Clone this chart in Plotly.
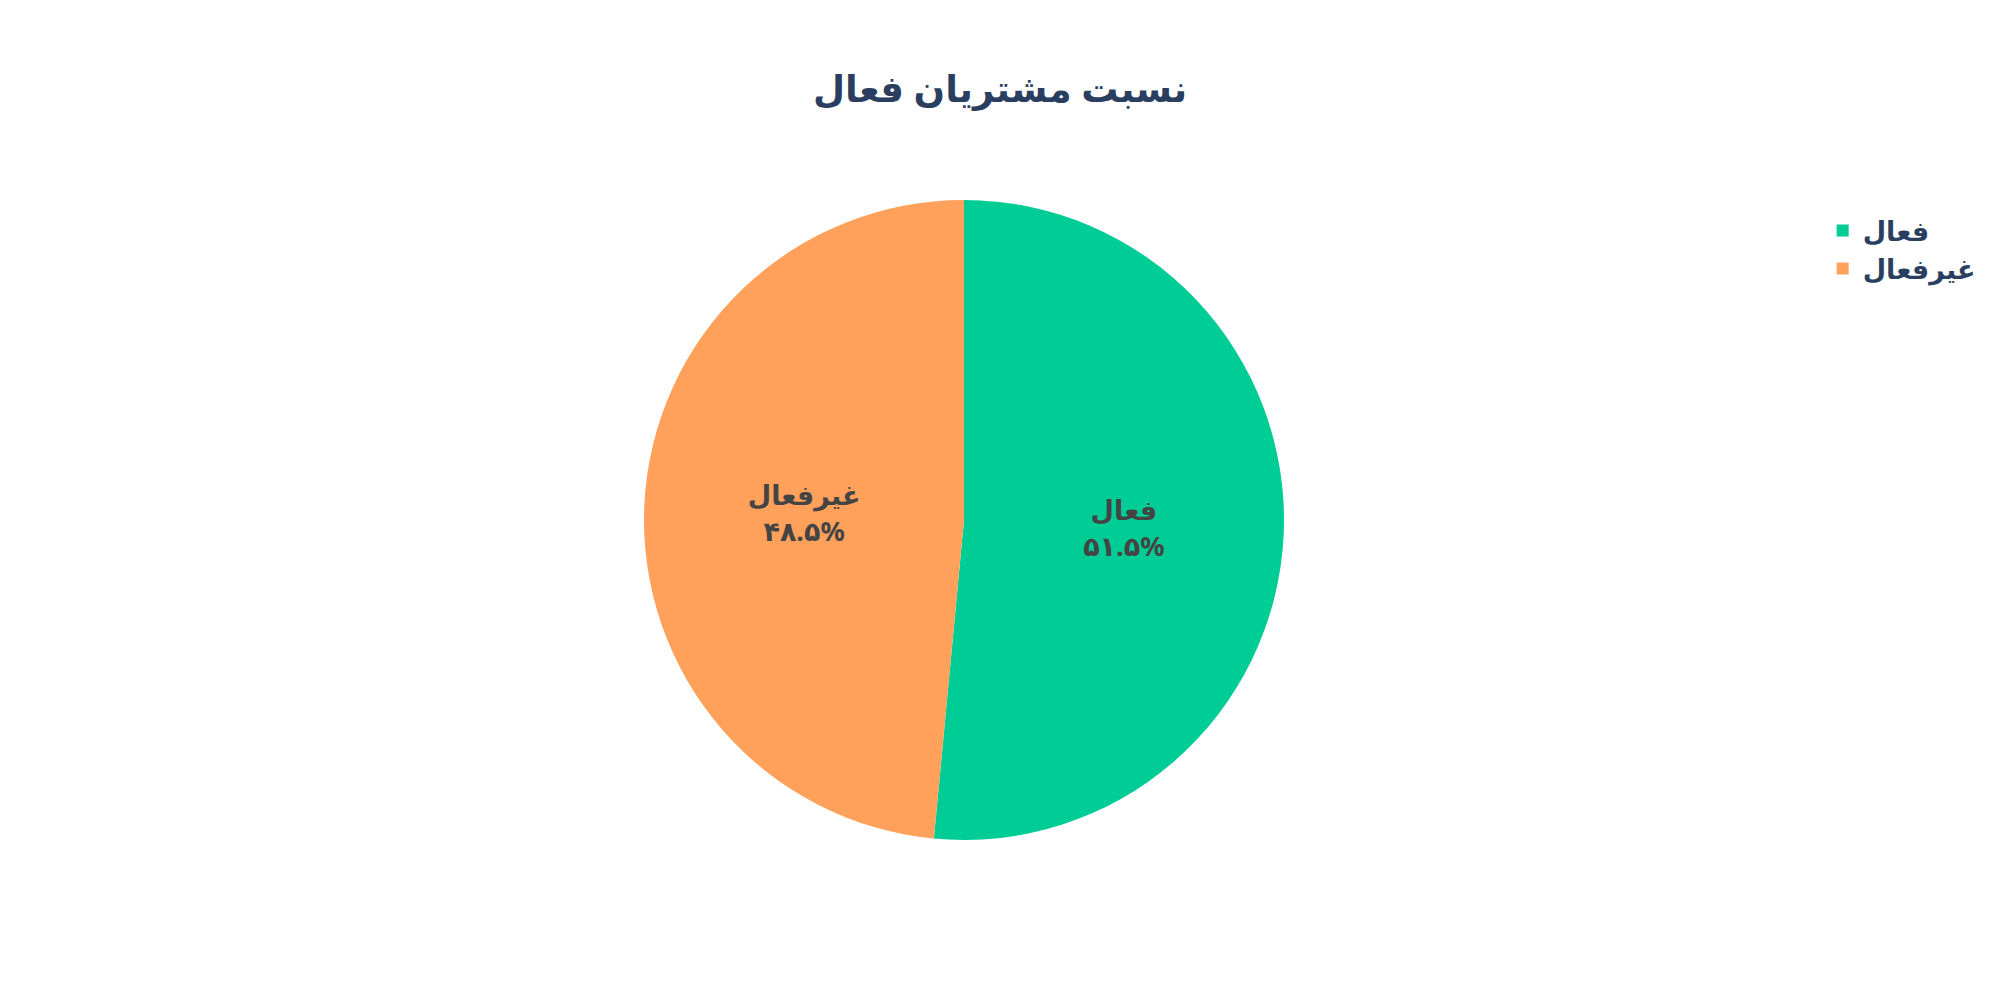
import plotly.graph_objects as go

# Data
labels = ["فعال", "غیرفعال"]
values = [51.5, 48.5]
colors = ["#00CC96", "#FFA15A"]
title_text = "نسبت مشتریان فعال"

PERSIAN = str.maketrans("0123456789", "۰۱۲۳۴۵۶۷۸۹")
total = sum(values)
texts = [
    f"{lab}<br>{(v / total * 100):.1f}%".translate(PERSIAN)
    for lab, v in zip(labels, values)
]

FONT = "Noto Sans, DejaVu Sans, sans-serif"

fig = go.Figure(
    go.Pie(
        labels=labels,
        values=values,
        text=texts,
        textinfo="text",
        hoverinfo="label+percent",
        marker=dict(colors=colors),
        direction="clockwise",
        sort=False,
        textposition="inside",
        insidetextorientation="horizontal",
        textfont=dict(size=27, color="#444", family=FONT, weight="bold"),
    )
)

fig.update_layout(
    width=2000,
    height=1000,
    paper_bgcolor="white",
    plot_bgcolor="white",
    font=dict(family=FONT, size=26, color="#2a3f5f"),
    title=dict(
        text=title_text,
        x=0.5,
        xanchor="center",
        y=0.911,
        yanchor="middle",
        font=dict(size=37, family=FONT, color="#2a3f5f", weight="bold"),
    ),
    margin=dict(l=160, r=232, t=200, b=160, autoexpand=False),
    legend=dict(
        x=1.034,
        y=0.99,
        xanchor="left",
        yanchor="top",
        font=dict(size=27, family=FONT, color="#2a3f5f", weight="bold"),
    ),
    showlegend=True,
)

fig.write_html("out.html")
